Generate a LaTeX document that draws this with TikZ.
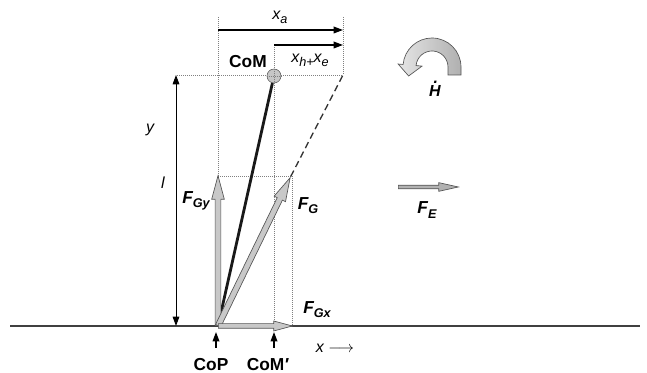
\documentclass[tikz,border=0pt]{standalone}
\usepackage{fontspec}
\setmainfont{Liberation Sans}
\usetikzlibrary{arrows.meta,shapes.arrows,calc}
\definecolor{forcegray}{RGB}{200,200,200}
\definecolor{edgegray}{RGB}{85,85,85}
\newcommand{\lowidx}[1]{\raisebox{-0.45ex}{\fontsize{9.5}{10}\selectfont #1}}
\tikzset{
  force arrow/.style={
    single arrow, draw=edgegray, fill=forcegray, line width=0.5pt,
    inner xsep=0pt, inner ysep=1.9pt, minimum width=0pt,
    single arrow head extend=2.6pt, single arrow tip angle=30, anchor=tail
  },
  guide/.style={densely dotted, gray, line width=0.5pt},
  dim arrow/.style={-{Triangle[length=7pt,width=5pt]}, line width=1pt, black},
  ground line/.style={line width=0.8pt, black!75},
  stick/.style={line width=2.1pt, black!90},
  var label/.style={font=\fontsize{12}{14}\selectfont\itshape, inner sep=1pt},
  bold label/.style={font=\fontsize{13}{15}\selectfont\bfseries, inner sep=1pt},
  force label/.style={font=\fontsize{13}{15}\selectfont\bfseries\itshape, inner sep=1pt}
}
\begin{document}
\begin{tikzpicture}[x=0.75pt,y=0.75pt]
  \useasboundingbox (0,0) rectangle (647,373);

  % ground and reference points
  \coordinate (groundL) at (10,47);
  \coordinate (groundR) at (640,47);
  \coordinate (cop) at (218,47);
  \coordinate (comfoot) at (274,47);
  \coordinate (gxend) at (292,47);
  \coordinate (gyend) at (218,197);
  \coordinate (gyline) at (292,197);
  \coordinate (topleft) at (177,298);
  \coordinate (topright) at (343,298);
  \coordinate (xastart) at (218,343);
  \coordinate (xaend) at (343,343);
  \coordinate (xhstart) at (274,328);
  \coordinate (xhend) at (343,328);
  \coordinate (leftup) at (218,356);
  \coordinate (rightup) at (343,356);
  \coordinate (ytop) at (176,298);
  \coordinate (ybot) at (176,47);

  % dotted guides
  \draw[guide] (topleft) -- (topright);
  \draw[guide] (leftup) -- (gyend);
  \draw[guide] (rightup) -- (topright);
  \draw[guide] (xhstart) -- (comfoot);
  \draw[guide] (gyend) -- (gyline) -- (gxend);

  \draw[ground line] (groundL) -- (groundR);

  % dimensions
  \draw[dim arrow] (xastart) -- (xaend);
  \draw[dim arrow] (xhstart) -- (xhend);
  \draw[{Triangle[length=7pt,width=5pt]}-{Triangle[length=7pt,width=5pt]}, line width=0.7pt] (ybot) -- (ytop);

  % body and forces
  \node[circle, draw=edgegray, fill=gray!45, minimum size=10.5pt, inner sep=0pt] (com) at (274,297) {};
  \draw[stick] (cop) -- (com);
  \node[force arrow, rotate=90, minimum height=150*0.75pt] (fgy) at (cop) {};
  \node[force arrow, rotate=64.06, minimum height=164.6*0.75pt] (fg) at (cop) {};
  \node[force arrow, inner ysep=1.5pt, single arrow head extend=2pt, minimum height=74*0.75pt] (fgx) at (cop) {};
  \node[force arrow, fill=gray!60, inner ysep=1.1pt, single arrow head extend=1.9pt, single arrow tip angle=25, minimum height=60*0.75pt] (fe) at (398,186) {};
  \draw[dashed, dash pattern=on 5pt off 3pt, line width=1pt, black!80] (fg.tip) -- (topright);
  \draw[guide] (com.north) -- (com.south);
  \draw[guide] (com.west) -- (com.east);

  % angular momentum
  \coordinate (turn) at (432,306);
  \shade[left color=gray!20, right color=gray!62, draw=edgegray, line width=0.5pt]
    ($(turn)+(29,-8)$) -- ($(turn)+(0:29)$) arc[start angle=0, end angle=175, radius=29]
    -- ($(turn)+(175:34)$) -- ($(turn)+(175:22.5)+(265:11)$)
    -- ($(turn)+(175:10)$) -- ($(turn)+(175:16)$)
    arc[start angle=175, end angle=0, radius=16] -- ($(turn)+(16,-8)$) -- cycle;

  % markers under the ground
  \coordinate (copmark) at (216,25);
  \coordinate (copmarktop) at (216,41);
  \coordinate (commark) at (274,25);
  \coordinate (commarktop) at (274,41);
  \draw[dim arrow] (copmark) -- (copmarktop);
  \draw[dim arrow] (commark) -- (commarktop);

  % labels
  \node[var label] (xalab) at (280,356) {x\lowidx{a}};
  \node[var label] (xhlab) at (310,313) {x\lowidx{h+}x\lowidx{e}};
  \node[bold label] (comlab) at (248,311) {CoM};
  \node[var label] (ylab) at (150,243) {y};
  \node[var label] (llab) at (163,190) {l};
  \node[force label] (fgylab) at (196,172) {F\lowidx{Gy}};
  \node[force label] (fglab) at (308,167) {F\lowidx{G}};
  \node[force label] (fgxlab) at (317,63) {F\lowidx{Gx}};
  \node[force label] (felab) at (427,163) {F\lowidx{E}};
  \node[force label, font=\fontsize{12}{14}\selectfont\bfseries\itshape] (hlab) at (435,284) {\rlap{\hspace{0.28em}\raisebox{0.8em}{.}}H};
  \node[bold label] (coplab) at (211,8) {CoP};
  \node[bold label] (comprimelab) at (268,8) {CoM\kern0.5pt\char"2032};
  \node[var label] (xaxis) at (335,25) {x \upshape$\longrightarrow$};
\end{tikzpicture}
\end{document}
